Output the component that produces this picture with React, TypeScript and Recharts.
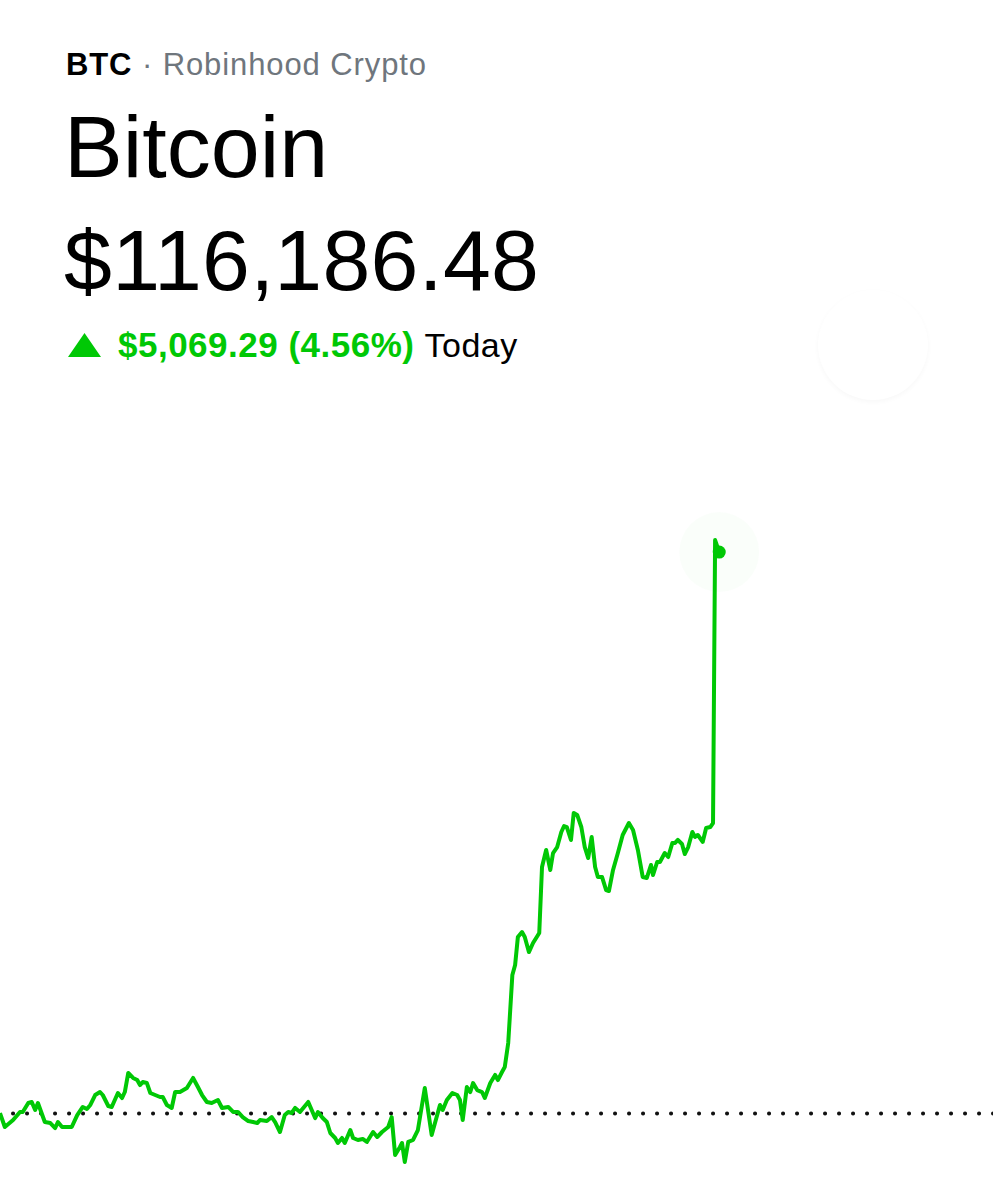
import React from "react";
import { LineChart, Line, XAxis, YAxis, ReferenceLine } from "recharts";

// minutes since midnight for each sample
const minutes = [
  0, 7, 19, 29, 33, 41, 46, 51, 55, 65, 73, 80, 84, 90, 104, 112, 120, 126, 131, 138,
  145, 149, 157, 162, 171, 177, 181, 186, 193, 199, 203, 207, 213, 218, 225, 232, 236, 242, 249, 254,
  261, 271, 280, 287, 293, 300, 307, 316, 322, 331, 338, 345, 352, 360, 367, 373, 377, 387, 394, 399,
  406, 413, 418, 423, 428, 435, 447, 457, 461, 468, 474, 479, 486, 490, 496, 500, 508, 512, 519, 526,
  532, 541, 547, 554, 563, 568, 573, 580, 583, 587, 592, 599, 606, 616, 626, 638, 642, 648, 656, 663,
  667, 671, 677, 682, 686, 692, 699, 703, 711, 718, 722, 728, 732, 737, 743, 747, 751, 757, 761, 767,
  773, 782, 786, 792, 798, 802, 808, 814, 818, 822, 828, 832, 837, 843, 848, 853, 858, 863, 867, 873,
  879, 883, 889, 896, 903, 912, 918, 925, 932, 938, 944, 947, 953, 957, 964, 969, 975, 979, 983, 989,
  993, 998, 1004, 1008, 1012, 1019, 1024, 1030, 1034, 1037, 1043,
];

const prices = [
  111121, 110995, 111058, 111131, 111131, 111212, 111221, 111149, 111212, 111040, 111031, 110986, 111040, 110995, 110995, 111103, 111176, 111158, 111194, 111284,
  111311, 111284, 111185, 111176, 111302, 111257, 111311, 111483, 111438, 111419, 111374, 111401, 111392, 111302, 111284, 111266, 111266, 111194, 111167, 111311,
  111311, 111347, 111438, 111356, 111284, 111221, 111212, 111239, 111167, 111176, 111131, 111131, 111085, 111049, 111040, 111031, 111058, 111049, 111085, 111040,
  110950, 111103, 111131, 111122, 111167, 111131, 111221, 111076, 111131, 111076, 111040, 110941, 110896, 110851, 110896, 110851, 110968, 110896, 110878, 110887,
  110860, 110950, 110905, 110950, 110995, 111085, 110742, 110815, 110851, 110679, 110860, 110878, 110968, 111347, 110923, 111194, 111149, 111239, 111302, 111284,
  111239, 111058, 111356, 111311, 111392, 111329, 111311, 111257, 111392, 111465, 111419, 111492, 111537, 111754, 112368, 112458, 112711, 112756, 112711, 112575,
  112657, 112747, 113343, 113497, 113316, 113469, 113523, 113659, 113713, 113704, 113587, 113831, 113813, 113704, 113523, 113424, 113614, 113343, 113253, 113253,
  113135, 113126, 113316, 113469, 113632, 113740, 113677, 113497, 113253, 113244, 113361, 113271, 113388, 113388, 113469, 113433, 113560, 113560, 113587, 113551,
  113460, 113523, 113659, 113614, 113632, 113569, 113695, 113704, 113740, 116295, 116186.48,
];

const previousClose = 111117.19;
const symbol = "BTC";
const source = "Robinhood Crypto";
const name = "Bitcoin";
const priceLabel = "$116,186.48";
const changeLabel = "$5,069.29 (4.56%)";
const periodLabel = "Today";

const GREEN = "#00c805";
const FONT = "'Liberation Sans', Arial, Helvetica, sans-serif";

const data = minutes.map((m, i) => ({ t: m, price: prices[i] }));
const lastIndex = data.length - 1;

function EndDot(props: any) {
  const { cx, cy, index } = props;
  if (index !== lastIndex) return <g key={`d-${index}`} />;
  return (
    <g key={`d-${index}`}>
      <circle cx={cx} cy={cy} r={40} fill={GREEN} fillOpacity={0.018} />
      <circle cx={cx} cy={cy} r={6.5} fill={GREEN} />
    </g>
  );
}

export default function App() {
  return (
    <div style={{ position: "relative", width: 993, height: 1200, background: "#fff", overflow: "hidden", fontFamily: FONT }}>
      <style>{`body{margin:0;background:#fff}`}</style>

      <div style={{ position: "absolute", left: 66, top: 49, fontSize: 31, letterSpacing: 0.9, lineHeight: 1, whiteSpace: "nowrap" }}>
        <span style={{ fontWeight: 700, color: "#000" }}>{symbol}</span>
        <span style={{ color: "#6f767d" }}> · {source}</span>
      </div>

      <div style={{ position: "absolute", left: 64, top: 103, fontSize: 88, lineHeight: 1, color: "#000" }}>
        {name}
      </div>

      <div style={{ position: "absolute", left: 64, top: 217, fontSize: 86, letterSpacing: 0.3, lineHeight: 1, color: "#000", whiteSpace: "nowrap" }}>
        {priceLabel}
      </div>

      <div style={{ position: "absolute", left: 68, top: 327, fontSize: 35, letterSpacing: 0.5, lineHeight: 1, whiteSpace: "nowrap", display: "flex", alignItems: "baseline" }}>
        <svg width={33} height={24} style={{ marginRight: 17 }}>
          <polygon points="16.5,0 33,24 0,24" fill={GREEN} />
        </svg>
        <span style={{ color: GREEN, fontWeight: 700 }}>{changeLabel}</span>
        <span style={{ color: "#000", marginLeft: 10, fontSize: 34 }}>{periodLabel}</span>
      </div>

      {/* faint expand button */}
      <div
        style={{
          position: "absolute",
          left: 818,
          top: 290,
          width: 110,
          height: 110,
          borderRadius: "50%",
          background: "#fff",
          boxShadow: "0 2px 5px rgba(0,0,0,0.03)",
        }}
      />

      <div style={{ position: "absolute", left: 0, top: 500 }}>
        <LineChart width={993} height={700} data={data} margin={{ top: 0, right: 0, bottom: 0, left: 0 }}>
          <XAxis dataKey="t" type="number" domain={[0, 1440]} hide />
          <YAxis type="number" domain={[110336, 116657]} hide />
          <ReferenceLine
            y={previousClose}
            stroke="#111"
            strokeWidth={4}
            strokeDasharray="0.1 13.9"
            strokeDashoffset={-13}
            strokeLinecap="round"
          />
          <Line
            type="linear"
            dataKey="price"
            stroke={GREEN}
            strokeWidth={4}
            strokeLinejoin="round"
            dot={EndDot}
            activeDot={false}
            isAnimationActive={false}
          />
        </LineChart>
      </div>
    </div>
  );
}
